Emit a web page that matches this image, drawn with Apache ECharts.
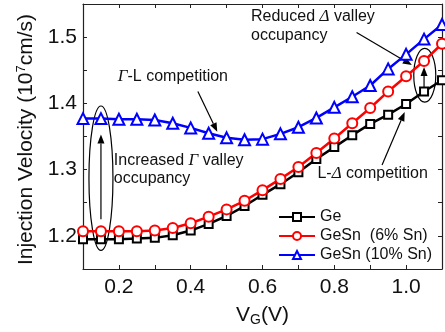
<!DOCTYPE html>
<html>
<head>
<meta charset="utf-8">
<script src="https://cdn.jsdelivr.net/npm/echarts@6/dist/echarts.min.js"></script>
<style>
  html, body { margin: 0; padding: 0; background: #fff; }
  #chart { width: 445px; height: 332px; }
</style>
</head>
<body>
<div id="chart"></div>
<script>
// gate voltage (V)
var vg = [0.1, 0.15, 0.2, 0.25, 0.3, 0.35, 0.4, 0.45, 0.5, 0.55, 0.6,
          0.65, 0.7, 0.75, 0.8, 0.85, 0.9, 0.95, 1.0, 1.05, 1.1];
// injection velocity (1e7 cm/s)
var ge = [1.195, 1.195, 1.195, 1.196, 1.197, 1.201, 1.208, 1.218, 1.230, 1.245, 1.262,
          1.278, 1.296, 1.316, 1.334, 1.352, 1.369, 1.383, 1.399, 1.418, 1.435];
var gesn6 = [1.207, 1.207, 1.207, 1.207, 1.208, 1.212, 1.219, 1.229, 1.240, 1.253, 1.269,
             1.286, 1.304, 1.325, 1.347, 1.370, 1.393, 1.418, 1.441, 1.464, 1.490];
var gesn10 = [1.377, 1.377, 1.376, 1.376, 1.375, 1.370, 1.363, 1.355, 1.348, 1.345, 1.346,
              1.354, 1.364, 1.378, 1.394, 1.410, 1.427, 1.452, 1.474, 1.497, 1.519];
var seriesNames = ['Ge', 'GeSn  (6% Sn)', 'GeSn (10% Sn)'];

var font = 'Liberation Sans, Arial, sans-serif';
var chart = echarts.init(document.getElementById('chart'));

function pairs(ys) {
  return vg.map(function (x, i) { return [x, ys[i]]; });
}

function mkSeries(name, ys, color, symbol, size) {
  return {
    name: name,
    type: 'line',
    data: pairs(ys),
    symbol: symbol,
    symbolSize: size,
    showAllSymbol: true,
    lineStyle: { color: color, width: 2.5 },
    itemStyle: { color: '#fff', borderColor: color, borderWidth: 2 },
    emphasis: { disabled: true }
  };
}

var tickStyle = { show: true, inside: true, length: 4, lineStyle: { color: '#222', width: 1 } };
var lineStyle = { show: true, lineStyle: { color: '#222', width: 1.2 } };

chart.setOption({
  animation: false,
  grid: { left: 83, right: 0, top: 4, bottom: 59 },
  legend: {
    orient: 'vertical',
    left: 278, top: 209,
    itemWidth: 36, itemHeight: 10, itemGap: 3,
    padding: 0,
    data: seriesNames,
    textStyle: { fontSize: 16, fontFamily: font, color: '#111' }
  },
  xAxis: [{
    type: 'value', min: 0.1, max: 1.1, interval: 0.1,
    axisLine: lineStyle, axisTick: tickStyle, splitLine: { show: false },
    axisLabel: {
      fontSize: 21, fontFamily: font, color: '#111', margin: 8,
      formatter: function (v) { return Math.round(v * 10) % 2 === 0 ? v.toFixed(1) : ''; }
    },
    name: 'V{sub|G}(V)', nameLocation: 'middle', nameGap: 34,
    nameTextStyle: {
      fontSize: 21, fontFamily: font, color: '#111',
      rich: { sub: { fontSize: 14, fontFamily: font, color: '#111', verticalAlign: 'bottom', padding: [10, 0, 0, 0] } }
    }
  }, {
    type: 'value', position: 'top', min: 0.1, max: 1.1, interval: 0.1,
    axisLine: lineStyle, axisTick: tickStyle, axisLabel: { show: false }, splitLine: { show: false }
  }],
  yAxis: [{
    type: 'value', min: 1.15, max: 1.55, interval: 0.05,
    axisLine: lineStyle, axisTick: tickStyle, splitLine: { show: false },
    axisLabel: {
      fontSize: 21, fontFamily: font, color: '#111', margin: 6,
      formatter: function (v) { return Math.round(v * 100) % 10 === 0 ? v.toFixed(1) : ''; }
    },
    name: 'Injection Velocity (10{sup|7}cm/s)', nameLocation: 'middle', nameGap: 33,
    nameTextStyle: {
      fontSize: 21, fontFamily: font, color: '#111', padding: [0, 6, 0, 0],
      rich: { sup: { fontSize: 13, fontFamily: font, color: '#111', verticalAlign: 'top', padding: [0, 0, 10, 0] } }
    }
  }, {
    type: 'value', position: 'right', min: 1.15, max: 1.55, interval: 0.05,
    axisLine: lineStyle, axisTick: tickStyle, axisLabel: { show: false }, splitLine: { show: false }
  }],
  series: [
    mkSeries(seriesNames[0], ge, '#000', 'rect', 8),
    mkSeries(seriesNames[1], gesn6, '#ff0000', 'circle', 10),
    mkSeries(seriesNames[2], gesn10, '#0000ff', 'triangle', 11)
  ]
});

// annotations, placed in data units
function px(x, y) { return chart.convertToPixel({ gridIndex: 0 }, [x, y]); }

function arrow(a, b) {
  var p1 = px(a[0], a[1]), p2 = px(b[0], b[1]);
  var dx = p2[0] - p1[0], dy = p2[1] - p1[1];
  var len = Math.sqrt(dx * dx + dy * dy);
  dx /= len; dy /= len;
  var head = 9, w = 3.5;
  var bx = p2[0] - dx * head, by = p2[1] - dy * head;
  return [{
    type: 'line', silent: true,
    shape: { x1: p1[0], y1: p1[1], x2: bx, y2: by },
    style: { stroke: '#000', lineWidth: 1.2 }
  }, {
    type: 'polygon', silent: true,
    shape: { points: [p2, [bx - dy * w, by + dx * w], [bx + dy * w, by - dx * w]] },
    style: { fill: '#000' }
  }];
}

function ellipse(x, yLo, yHi, rx) {
  var top = px(x, yHi), bot = px(x, yLo);
  return {
    type: 'ellipse', silent: true,
    shape: { cx: top[0], cy: (top[1] + bot[1]) / 2, rx: rx, ry: (bot[1] - top[1]) / 2 },
    style: { fill: 'none', stroke: '#000', lineWidth: 1.2 }
  };
}

var greek = { g: { fontStyle: 'italic', fontFamily: 'Liberation Serif, serif', fontSize: 17, fill: '#111' } };

function label(x, y, text) {
  var p = px(x, y);
  return {
    type: 'text', silent: true, x: p[0], y: p[1],
    style: {
      text: text, rich: greek, fontSize: 16, fontFamily: font, fill: '#111',
      align: 'left', verticalAlign: 'middle'
    }
  };
}

var graphics = [
  ellipse(0.15, 1.178, 1.396, 12),
  ellipse(1.052, 1.402, 1.483, 11),
  label(0.568, 1.531, 'Reduced {g|Δ} valley'),
  label(0.568, 1.5025, 'occupancy'),
  label(0.197, 1.441, '{g|Γ}-L competition'),
  label(0.186, 1.314, 'Increased {g|Γ} valley'),
  label(0.186, 1.286, 'occupancy'),
  label(0.753, 1.294, 'L-{g|Δ} competition')
]
  .concat(arrow([0.15, 1.225], [0.15, 1.353]))
  .concat(arrow([1.05, 1.420], [1.05, 1.455]))
  .concat(arrow([0.862, 1.507], [1.016, 1.458]))
  .concat(arrow([0.933, 1.307], [0.996, 1.387]))
  .concat(arrow([0.420, 1.418], [0.474, 1.357]));

chart.setOption({ graphic: graphics });
</script>
</body>
</html>
